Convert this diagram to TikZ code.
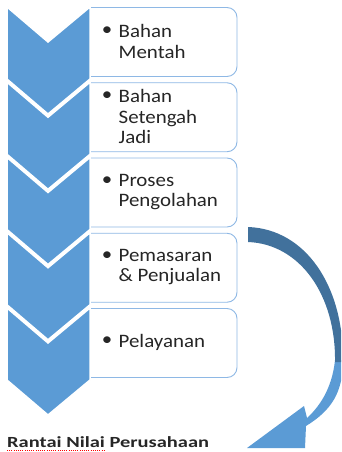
\documentclass[tikz,border=0pt]{standalone}
\usepackage{fontspec}
\setmainfont{Carlito}
\newfontfamily\stepfont[FakeStretch=1.1]{Carlito}
\newfontfamily\titlefont[FakeStretch=1.32]{Carlito}
\definecolor{chevblue}{HTML}{5B9BD5}
\definecolor{arrowdark}{HTML}{41719C}
\definecolor{boxline}{HTML}{8EB8E5}
\definecolor{inktext}{HTML}{262626}
\tikzset{
  chevron/.style={fill=chevblue, draw=white, line width=1.5pt, line join=miter},
  stepbox/.style={fill=white, draw=boxline, line width=0.9pt},
  steptext/.style={font=\stepfont\fontsize{19}{20.5}\selectfont, text=inktext, align=left, inner sep=0pt},
  stepdot/.style={font=\stepfont\fontsize{19}{20.5}\selectfont, text=inktext, inner sep=0pt},
}
\begin{document}
\begin{tikzpicture}[x=1pt,y=-1pt]
        \useasboundingbox (0,0) rectangle (341,452);
        % steps: box, chevron, bullet text
        \foreach \i/\txt in {0/{Bahan\\Mentah}, 1/{Bahan\\Setengah\\Jadi}, 2/{Proses\\Pengolahan}, 3/{Pemasaran\\\& Penjualan}, 4/{Pelayanan}} {
          \pgfmathsetmacro{\ytop}{7+75.25*\i}
          \path[stepbox] (90,\ytop+0.5) [rounded corners=10pt] -- (237,\ytop+0.5) -- (237,\ytop+69.5) [sharp corners] -- (90,\ytop+69.5) -- cycle;
          \path[chevron] (7,\ytop) -- (48,\ytop+35) -- (90,\ytop) -- (90,\ytop+72) -- (48,\ytop+107) -- (7,\ytop+72) -- cycle;
          \node[steptext, anchor=west] (item\i) at (118.5,\ytop+34.5) {\txt};
          \node[stepdot] (dot\i) at ([shift={(-11.5,6.9)}]item\i.north west) {\textbullet};
        }
        % curved arrow
        \begin{scope}
        \clip (0,0) rectangle (341,452);
        \fill[chevblue] (343,360) .. controls (343,392) and (332,410) .. (306,426) -- (305,448) -- (247,448) -- (304,406) -- (307,418) .. controls (318,408) and (332,390) .. (335,360) -- cycle;
        \fill[arrowdark] (248,227) .. controls (305,229) and (344,285) .. (343,362) -- (335,362) .. controls (336,295) and (300,244) .. (248,242) -- cycle;
        \end{scope}
        \node[font=\titlefont\bfseries\fontsize{15.5}{18}\selectfont, text=inktext, anchor=base west, inner sep=0pt] (title) at (7,447) {Rantai Nilai Perusahaan};
        \draw[red, line width=0.7pt, dash pattern=on 1pt off 1.2pt] (title.base west) ++(0,3.5) coordinate (ulA) -- ++(98,0) coordinate (ulB);
\end{tikzpicture}
\end{document}
